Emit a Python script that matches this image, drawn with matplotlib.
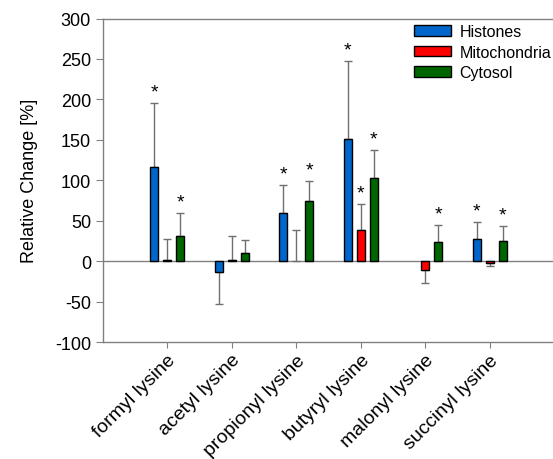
import numpy as np
import matplotlib
matplotlib.use('Agg')
import matplotlib.pyplot as plt

plt.rcParams['font.family'] = ['Liberation Sans', 'DejaVu Sans']
plt.rcParams['axes.unicode_minus'] = False

# values
categories = ['formyl lysine', 'acetyl lysine', 'propionyl lysine',
              'butyryl lysine', 'malonyl lysine', 'succinyl lysine']
series = ['Histones', 'Mitochondria', 'Cytosol']
histones = [117, -13, 60, 151, 0, 27]
histones_err = [78, 40, 34, 96, 0, 21]
mito = [1, 1, 0, 38.5, -10.5, -2]
mito_err = [26, 30, 38, 32, 16, 4]
cyto = [30.5, 10, 74.5, 102.5, 24, 24.5]
cyto_err = [29, 16, 25, 34.5, 21, 19]
# (category index, series index) pairs marked with an asterisk
stars = [(0, 0), (0, 2), (2, 0), (2, 2), (3, 0), (3, 1), (3, 2),
         (4, 2), (5, 0), (5, 2)]

colors = ['#0066CC', '#FF0000', '#006600']
values = [histones, mito, cyto]
errors = [histones_err, mito_err, cyto_err]

fig = plt.figure(figsize=(5.53, 4.60), dpi=100)
ax = fig.add_axes([0.186, 0.2543, 0.816, 0.7033])

x = np.arange(1, len(categories) + 1)
offsets = [-0.2, 0.0, 0.2]
width = 0.125
gray = '#808080'

ax.axhline(0, color=gray, lw=1, zorder=1)

for s in range(3):
    v = np.array(values[s], dtype=float)
    e = np.array(errors[s], dtype=float)
    xs = x + offsets[s]
    # zero-height bars get no outline so only the zero line shows
    lws = np.where(v == 0, 0, 1)
    ax.bar(xs, v, width=width, color=colors[s], edgecolor='black',
           linewidth=lws, label=series[s], zorder=3)
    up = np.where(v >= 0, e, 0)
    down = np.where(v < 0, e, 0)
    keep = e > 0
    ax.errorbar(xs[keep], v[keep], yerr=[down[keep], up[keep]], fmt='none',
                ecolor='#707070', elinewidth=1, capsize=3, capthick=1, zorder=2)

for c, s in stars:
    v = values[s][c]
    top = v + errors[s][c] if v >= 0 else v
    ax.text(x[c] + offsets[s], top + 8, '*', ha='center', va='baseline',
            fontsize=14, color='black')

ax.set_xlim(0, 7)
ax.set_ylim(-100, 300)
ax.set_yticks(np.arange(-100, 301, 50))
ax.set_xticks(x)
ax.set_xticklabels(categories, rotation=45, ha='right', rotation_mode='anchor',
                   fontsize=14)
ax.tick_params(axis='y', labelsize=13, direction='out', length=5, color=gray)
ax.tick_params(axis='x', direction='out', length=4, color=gray, pad=2.5)
ax.set_ylabel('Relative Change [%]', fontsize=13, labelpad=12)

for side in ['left', 'top', 'bottom']:
    ax.spines[side].set_color(gray)
    ax.spines[side].set_linewidth(1)
ax.spines['right'].set_visible(False)

leg = ax.legend(loc='upper left', bbox_to_anchor=(0.689, 0.982), frameon=False,
                fontsize=11.5, borderaxespad=0, borderpad=0, handlelength=2.3,
                handleheight=0.65, handletextpad=0.57, labelspacing=0.33)
for h in leg.legend_handles:
    h.set_linewidth(1)

fig.savefig('out.png', dpi=100)
